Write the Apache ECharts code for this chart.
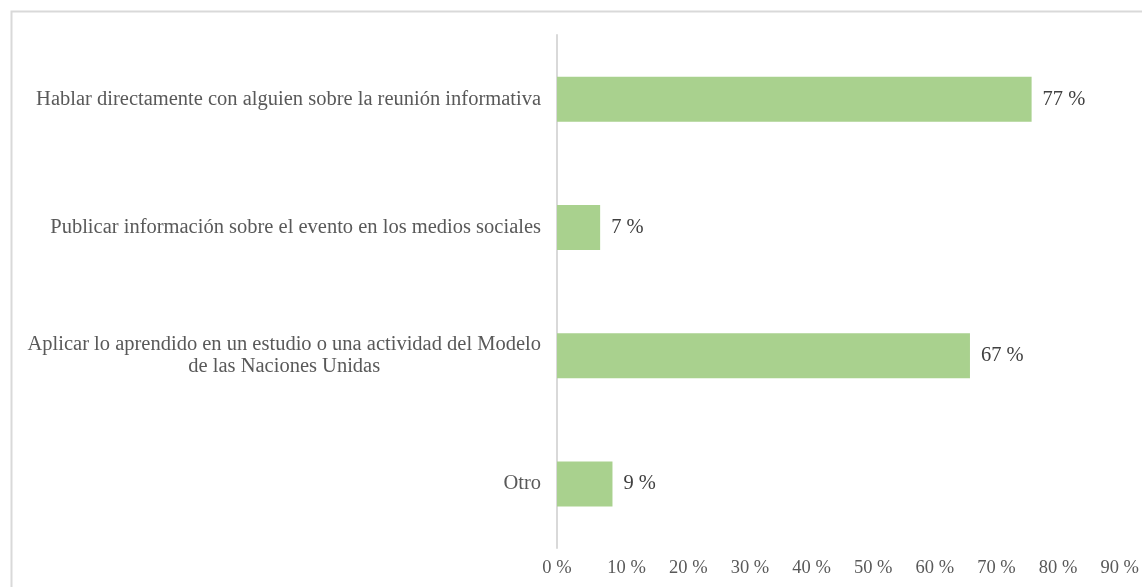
<!DOCTYPE html>
<html>
<head>
<meta charset="utf-8">
<script src="https://cdn.jsdelivr.net/npm/echarts@6/dist/echarts.min.js"></script>
<style>
html,body{margin:0;padding:0;background:#fff;}
#c{width:1142px;height:587px;}
</style>
</head>
<body>
<div id="c"></div>
<script>
const categories = [
  "Hablar directamente con alguien sobre la reunión informativa",
  "Publicar información sobre el evento en los medios sociales",
  "Aplicar lo aprendido en un estudio o una actividad del Modelo\nde las Naciones Unidas",
  "Otro"
];
const values = [77, 7, 67, 9];
const tickMax = 90;
const tickStep = 10;

const chart = echarts.init(document.getElementById('c'), null, {renderer: 'canvas'});
const font = '"Liberation Serif", "Times New Roman", serif';
chart.setOption({
  animation: false,
  backgroundColor: '#fff',
  graphic: [{
    type: 'rect',
    shape: {x: 11.5, y: 11.5, width: 1200, height: 700},
    style: {fill: 'none', stroke: '#d9d9d9', lineWidth: 2},
    silent: true
  }],
  grid: {left: 557, top: 35, width: 557, height: 513, containLabel: false},
  xAxis: {
    type: 'value',
    min: 0, max: tickMax, interval: tickStep,
    axisLine: {show: false},
    axisTick: {show: false},
    splitLine: {show: false},
    axisLabel: {
      formatter: function (v) {
        return v === 0 ? '{z|' + v + ' %}' : '{n|' + v + ' %}';
      },
      rich: {
        z: {fontFamily: font, fontSize: 18.5, color: '#595959'},
        n: {fontFamily: font, fontSize: 18.5, color: '#595959', padding: [0, 0, 0, 16]}
      },
      fontFamily: font, fontSize: 18.5, color: '#595959', margin: 11
    }
  },
  yAxis: {
    type: 'category',
    data: categories,
    inverse: true,
    axisLine: {show: true, lineStyle: {color: '#d9d9d9', width: 2}},
    axisTick: {show: false},
    axisLabel: {
      fontFamily: font, fontSize: 20.5, color: '#595959', margin: 16,
      align: 'right', lineHeight: 22,
      formatter: function (v) {
        return v.split('\n').map(function (s) { return '{c|' + s + '}'; }).join('\n');
      },
      rich: {
        c: {fontFamily: font, fontSize: 20.5, color: '#595959', align: 'center', lineHeight: 22}
      }
    }
  },
  series: [{
    type: 'bar',
    data: values,
    barWidth: 45,
    itemStyle: {color: '#a9d18e'},
    label: {
      show: true, position: 'right', distance: 11,
      formatter: '{c} %',
      fontFamily: font, fontSize: 20.5, color: '#404040'
    }
  }]
});
</script>
</body>
</html>
